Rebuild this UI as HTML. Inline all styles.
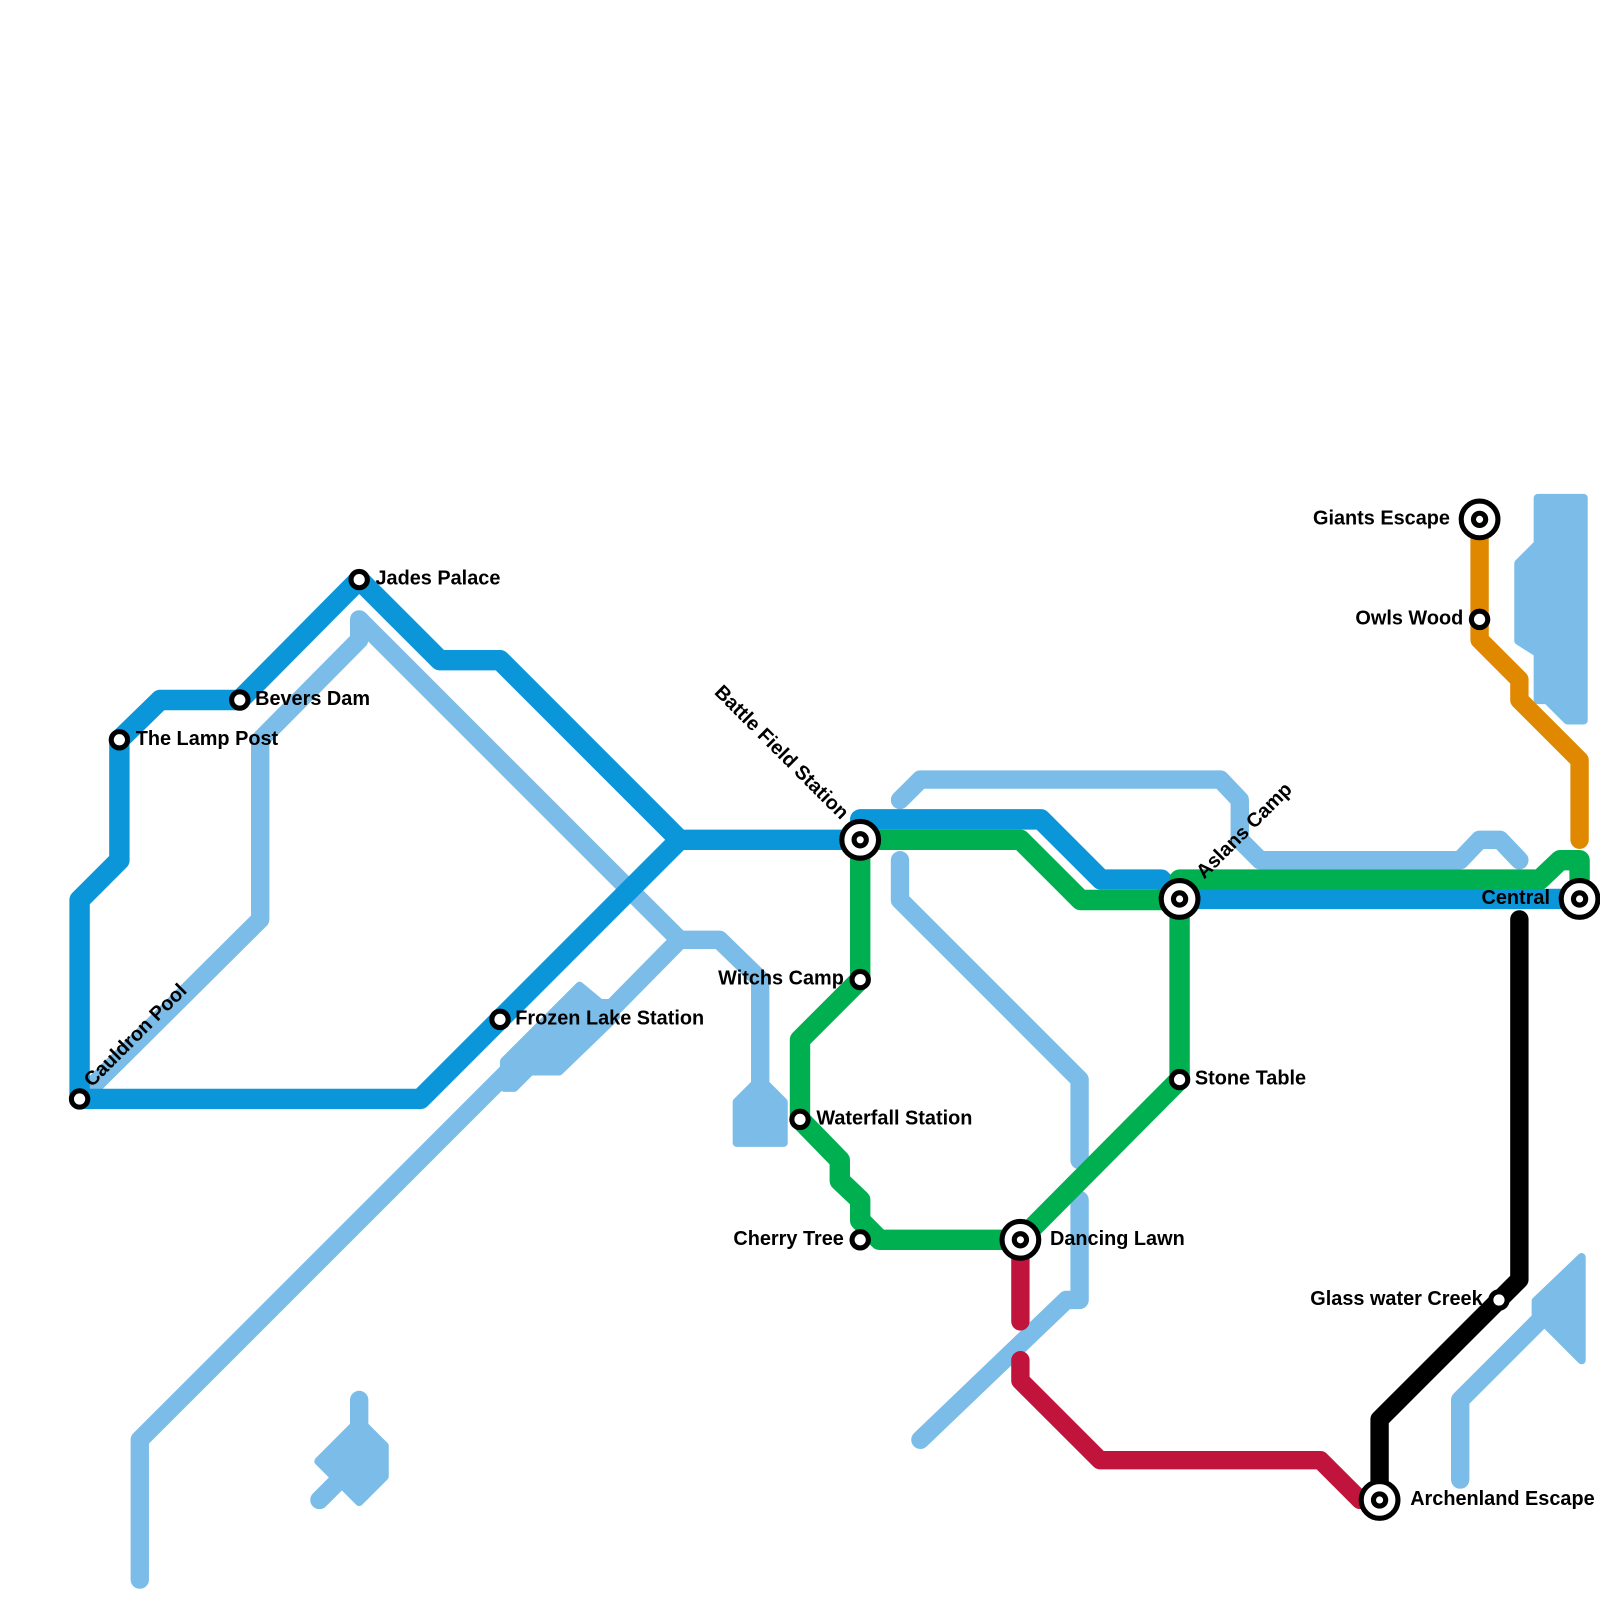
<!DOCTYPE html>
<html><head><meta charset="utf-8"><style>html,body{margin:0;padding:0;background:#fff}svg{display:block}text{font-family:"Liberation Sans",sans-serif;font-weight:bold;font-size:19.5px;fill:#000}</style></head>
<body>
<svg width="1600" height="1600" viewBox="0 0 1600 1600" xmlns="http://www.w3.org/2000/svg">
<g transform="scale(1.0204)">
<g fill="none" stroke-linecap="round" stroke-linejoin="round">
<g stroke="#7bbde8" stroke-width="18">
<polyline points="137,1548 137,1411 500,1048 560,988 600,988 666,921 705,921 745,960 745,1075"/>
<polyline points="88,1067 255,901 255,725 352,627 352,607 362,617 666,921"/>
<polyline points="882,784 902,764 1196,764 1215,784 1215,823 1235,843 1431,843 1450,823 1470,823 1489,843"/>
<polyline points="882,843 882,882 1058,1058 1058,1137"/>
<polyline points="1058,1176 1058,1274 1045,1274 902,1411"/>
<polyline points="1431,1450 1431,1372 1509,1294"/>
<polyline points="313,1470 330,1453"/>
<polyline points="352,1372 352,1400"/>
</g>
<g fill="#7bbde8" stroke="#7bbde8" stroke-width="8">
<polygon points="494,1040 568,966 604,996 548,1050 520,1050 504,1066 494,1066"/>
<polygon points="722,1080 745,1057 768,1080 768,1120 722,1120"/>
<polygon points="312,1432 352,1392 377,1417 377,1447 352,1472 325,1445"/>
<polygon points="1507,488 1552,488 1552,706 1536,706 1516,686 1507,686 1507,640 1488,628 1488,552 1507,533"/>
<polygon points="1505,1275 1550,1232 1550,1333 1505,1288"/>
</g>
<g stroke="#0a96d8" stroke-width="20">
<polyline points="78,1077 78,882 117,843 117,725 157,686 235,686 352,568 431,647 490,647 666,823 843,823"/>
<polyline points="666,823 412,1077 78,1077"/>
<polyline points="843,803 1020,803 1079,862 1138,862 1156,881 1548,881"/>
</g>
<g stroke="#00b050" stroke-width="20">
<polyline points="843,823 1000,823 1059,882 1156,882"/>
<polyline points="1156,862 1509,862 1529,843 1548,843 1548,862"/>
<polyline points="843,823 843,960 784,1019 784,1097 823,1137 823,1157 843,1176 843,1196 862,1215 1000,1215 1156,1058 1156,882"/>
</g>
<g stroke="#c0143c" stroke-width="18">
<polyline points="1000,1215 1000,1295"/>
<polyline points="1000,1333 1000,1353 1078,1431 1294,1431 1333,1470 1352,1470"/>
</g>
<polyline stroke="#000" stroke-width="18" points="1489,901 1489,1254 1352,1391 1352,1470"/>
<polyline stroke="#e08800" stroke-width="18" points="1450,509 1450,627 1489,666 1489,686 1548,745 1548,823"/>
</g>
<g fill="#fff" stroke="#000" stroke-width="5">
<circle cx="78" cy="1077" r="8"/><circle cx="117" cy="725" r="8"/><circle cx="235" cy="686" r="8"/>
<circle cx="352" cy="568" r="8"/><circle cx="490" cy="999" r="8"/><circle cx="843" cy="960" r="8"/>
<circle cx="784" cy="1097" r="8"/><circle cx="843" cy="1215" r="8"/><circle cx="1156" cy="1058" r="8"/>
<circle cx="1450" cy="607" r="8"/><circle cx="1469" cy="1274" r="8"/>
<circle cx="843" cy="823" r="18"/><circle cx="843" cy="823" r="6"/>
<circle cx="1000" cy="1215" r="18"/><circle cx="1000" cy="1215" r="6"/>
<circle cx="1156" cy="881" r="18"/><circle cx="1156" cy="881" r="6"/>
<circle cx="1548" cy="881" r="18"/><circle cx="1548" cy="881" r="6"/>
<circle cx="1450" cy="509" r="18"/><circle cx="1450" cy="509" r="6"/>
<circle cx="1352" cy="1470" r="18"/><circle cx="1352" cy="1470" r="6"/>
</g>
<text x="368" y="573">Jades Palace</text>
<text x="250" y="691">Bevers Dam</text>
<text x="133" y="730">The Lamp Post</text>
<text x="505" y="1004">Frozen Lake Station</text>
<text x="827" y="965" text-anchor="end">Witchs Camp</text>
<text x="800" y="1102">Waterfall Station</text>
<text x="827" y="1220" text-anchor="end">Cherry Tree</text>
<text x="1029" y="1220">Dancing Lawn</text>
<text x="1171" y="1063">Stone Table</text>
<text x="1434" y="612" text-anchor="end">Owls Wood</text>
<text x="1421" y="514" text-anchor="end">Giants Escape</text>
<text x="1519" y="886" text-anchor="end">Central</text>
<text x="1453" y="1279" text-anchor="end">Glass water Creek</text>
<text x="1382" y="1475">Archenland Escape</text>
<text transform="translate(90,1066) rotate(-45)">Cauldron Pool</text>
<text transform="translate(1180,862) rotate(-45)">Aslans Camp</text>
<text transform="translate(824,804) rotate(45)" text-anchor="end">Battle Field Station</text>
</g>
</svg>
</body></html>
